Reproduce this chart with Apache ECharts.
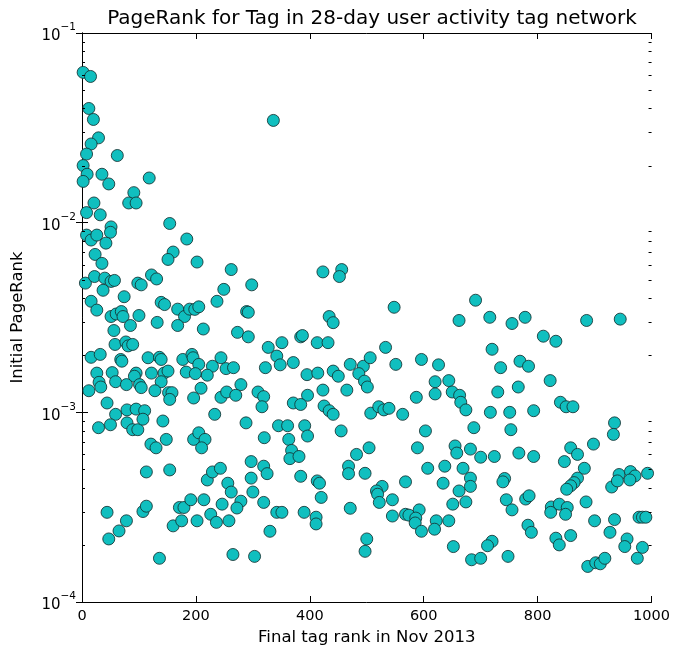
<!DOCTYPE html>
<html><head><meta charset="utf-8">
<script src="https://cdn.jsdelivr.net/npm/echarts@6/dist/echarts.min.js"></script>
<style>html,body{margin:0;padding:0;background:#fff}#c{width:673px;height:651px}</style>
</head><body><div id="c"></div>
<script>
const titleText = 'PageRank for Tag in 28-day user activity tag network';
const xAxisLabel = 'Final tag rank in Nov 2013';
const yAxisLabel = 'Initial PageRank';
const xTicks = [0, 200, 400, 600, 800, 1000];
const yTickExponents = [-4, -3, -2, -1];
const yMinorMantissas = [2, 3, 4, 5, 6, 7, 8, 9];

const finalRank = [
2,15,12,20,29,16,8,62,2,9,35,2,47,118,91,82,95,21,8,32,51,154,336,50,8,16,26,42,184,23,35,160,151,202,262,6,22,40,51,57,37,98,104,122,131,74,16,26,139,145,168,180,189,198,205,237,249,51,60,69,72,100,56,85,132,168,213,58,77,81,89,16,32,68,70,116,136,139,177,193,195,205,229,244,253,26,53,95,92,122,144,151,183,199,220,30,33,59,78,101,104,139,12,128,152,158,154,209,196,244,254,44,59,79,95,110,233,29,50,79,89,98,107,142,121,130,148,196,205,216,210,113,154,220,229,243,256,44,78,65,47,107,113,136,160,171,179,175,191,202,214,226,236,246,258,265,
298,289,292,423,456,452,434,441,273,292,327,351,384,387,413,432,342,348,371,322,266,395,414,441,450,471,494,486,506,496,501,279,270,309,319,316,396,423,465,371,384,425,434,441,507,288,345,361,391,396,320,363,368,365,381,455,504,482,468,468,497,297,319,325,297,262,300,384,413,417,420,279,272,319,342,351,390,411,411,471,330,500,497,303,
548,691,662,716,755,533,551,596,626,720,735,620,644,620,650,663,665,674,587,730,521,530,539,563,717,751,603,688,753,589,655,658,682,700,724,607,637,669,682,682,634,662,651,674,568,527,517,519,522,545,545,568,574,592,586,585,596,622,619,644,742,739,745,755,652,720,712,684,700,748,
778,810,832,886,945,769,784,766,822,840,850,862,793,935,933,767,793,858,870,847,898,882,870,864,858,851,943,930,940,963,971,962,993,779,785,824,823,838,852,849,885,900,935,927,978,984,990,783,789,832,838,858,957,953,984,975,888,902,910,918
];
const initialPageRank = [
0.062,0.059,0.040,0.035,0.028,0.026,0.023,0.0226,0.020,0.018,0.018,0.0165,0.016,0.0172,0.0144,0.0127,0.0127,0.0127,0.0113,0.0110,0.0095,0.0099,0.0346,0.0089,0.0086,0.0081,0.0086,0.0078,0.0082,0.0068,0.0061,0.0070,0.0064,0.0062,0.00566,0.0048,0.0052,0.0051,0.0049,0.00496,0.0044,0.0048,0.0047,0.0053,0.00505,0.00407,0.00385,0.00346,0.0038,0.0037,0.0035,0.0032,0.0035,0.00349,0.0036,0.00385,0.00445,0.0032,0.0033,0.0034,0.0032,0.00324,0.0027,0.00287,0.00298,0.00287,0.00275,0.00228,0.00235,0.00224,0.00228,0.00195,0.00202,0.0019,0.00186,0.00194,0.00195,0.0019,0.0019,0.00202,0.00194,0.00179,0.00175,0.00194,0.0017,0.00161,0.00162,0.00161,0.00155,0.00161,0.00161,0.00165,0.00163,0.0016,0.00157,0.00144,0.00136,0.00145,0.0014,0.0014,0.00135,0.00145,0.0013,0.0013,0.00127,0.00127,0.00117,0.00134,0.00119,0.0012,0.00128,0.00112,0.000976,0.00103,0.00104,0.00102,0.000976,0.00083,0.00086,0.00088,0.00081,0.00081,0.00092,0.0009,0.00068,0.00065,0.00072,0.00072,0.00078,0.00072,0.00065,0.000485,0.000497,0.00044,0.000485,0.000507,0.000423,0.000297,0.000268,0.000237,0.000215,0.0003,0.00032,0.00017,0.000252,0.000315,0.000315,0.000268,0.000346,0.000268,0.000346,0.00029,0.000263,0.000328,0.000268,0.000178,
0.0047,0.0034,0.00337,0.0055,0.00566,0.0052,0.0032,0.00297,0.00264,0.0025,0.0022,0.00233,0.0025,0.00254,0.00233,0.00233,0.00198,0.00178,0.00183,0.00172,0.00172,0.00158,0.00161,0.00165,0.00155,0.00179,0.00175,0.0016,0.00194,0.00146,0.00136,0.0014,0.00123,0.00128,0.00121,0.00107,0.00123,0.00131,0.00131,0.00112,0.0011,0.00108,0.00102,0.000976,0.00099,0.00088,0.00085,0.00085,0.00085,0.00075,0.000735,0.00072,0.00063,0.00057,0.000585,0.000798,0.00065,0.0006,0.00052,0.000475,0.000477,0.00055,0.00052,0.000475,0.00045,0.00038,0.00038,0.00046,0.000435,0.000423,0.000356,0.00034,0.000313,0.000335,0.000297,0.000297,0.000297,0.00028,0.000258,0.000312,0.000236,0.000215,0.000185,0.000174,
0.00358,0.0039,0.00305,0.00317,0.00294,0.0022,0.00179,0.0019,0.00178,0.00215,0.00172,0.00145,0.00147,0.00125,0.00128,0.00123,0.00113,0.00103,0.0012,0.00128,0.00107,0.00103,0.00105,0.000976,0.001,0.001,0.000798,0.00083,0.00081,0.00065,0.000665,0.00061,0.00064,0.00058,0.000585,0.000507,0.00052,0.000507,0.00045,0.000407,0.000423,0.000385,0.000328,0.000337,0.00043,0.000407,0.000385,0.00037,0.000335,0.000346,0.000284,0.00029,0.000287,0.000306,0.000277,0.000261,0.000236,0.000268,0.000242,0.000268,0.000448,0.00043,0.000346,0.000306,0.000196,0.000209,0.000198,0.000167,0.00017,0.000174,
0.00317,0.00252,0.00237,0.00305,0.0031,0.00186,0.00175,0.00136,0.00147,0.00113,0.00107,0.00107,0.00102,0.00088,0.000765,0.00061,0.000585,0.00065,0.0006,0.00055,0.00068,0.000507,0.00045,0.000426,0.00041,0.000393,0.00047,0.000404,0.000435,0.000487,0.000462,0.00044,0.000477,0.000349,0.000363,0.000317,0.000297,0.000328,0.000315,0.00029,0.000337,0.000268,0.000272,0.000233,0.00028,0.00028,0.00028,0.000254,0.000233,0.000217,0.0002,0.000224,0.000215,0.000196,0.000194,0.00017,0.000154,0.000161,0.000159,0.00017
];

const FONT = 'DejaVu Sans';
const points = finalRank.map((x, i) => [x, initialPageRank[i]]);
const yMin = Math.pow(10, yTickExponents[0]);
const yMax = Math.pow(10, yTickExponents[yTickExponents.length - 1]);
const minorVals = [];
for (let k = 0; k < yTickExponents.length - 1; k++) {
  yMinorMantissas.forEach(m => minorVals.push([0, m * Math.pow(10, yTickExponents[k])]));
}
const MINUS = '\u2212';
const chart = echarts.init(document.getElementById('c'), null, {renderer: 'canvas'});
const tickStyle = {color: '#000', width: 1};
chart.setOption({
  animation: false,
  backgroundColor: '#fff',
  title: {
    text: titleText, left: 367, top: 4, textAlign: 'center',
    textStyle: {fontFamily: FONT, fontSize: 20, fontWeight: 'normal', color: '#000'}
  },
  grid: {left: 82, right: 21, top: 33, bottom: 48, containLabel: false},
  xAxis: [{
    type: 'value', min: xTicks[0], max: xTicks[xTicks.length - 1], interval: 200,
    name: xAxisLabel, nameLocation: 'middle', nameGap: 27,
    nameTextStyle: {fontFamily: FONT, fontSize: 16.5, color: '#000'},
    axisLine: {show: true, lineStyle: {color: '#000', width: 1}},
    axisTick: {show: true, inside: true, length: 6, lineStyle: tickStyle},
    axisLabel: {fontFamily: FONT, fontSize: 14.5, color: '#000', margin: 7, formatter: v => String(v)},
    splitLine: {show: false}
  }, {
    type: 'value', position: 'top', min: xTicks[0], max: xTicks[xTicks.length - 1], interval: 200,
    axisLine: {show: true, lineStyle: {color: '#000', width: 1}},
    axisTick: {show: true, inside: true, length: 6, lineStyle: tickStyle},
    axisLabel: {show: false}, splitLine: {show: false}
  }],
  yAxis: [{
    type: 'log', logBase: 10, min: yMin, max: yMax,
    name: yAxisLabel, nameLocation: 'middle', nameGap: 56, nameRotate: 90,
    nameTextStyle: {fontFamily: FONT, fontSize: 16.5, color: '#000'},
    axisLine: {show: true, lineStyle: {color: '#000', width: 1}},
    axisTick: {show: true, inside: true, length: 6, lineStyle: tickStyle},
    axisLabel: {
      margin: 6,
      formatter: v => {
        const e = Math.round(Math.log10(v));
        return '{b|10}{s|' + (e < 0 ? MINUS + (-e) : e) + '}';
      },
      rich: {
        b: {fontFamily: FONT, fontSize: 15, color: '#000', verticalAlign: 'bottom', lineHeight: 22},
        s: {fontFamily: FONT, fontSize: 10.5, color: '#000', verticalAlign: 'top', lineHeight: 22}
      }
    },
    splitLine: {show: false}, minorTick: {show: false}
  }, {
    type: 'log', logBase: 10, min: yMin, max: yMax, position: 'right',
    axisLine: {show: true, lineStyle: {color: '#000', width: 1}},
    axisTick: {show: true, inside: true, length: 6, lineStyle: tickStyle},
    axisLabel: {show: false}, splitLine: {show: false}
  }],
  series: [{
    type: 'scatter', xAxisIndex: 0, yAxisIndex: 0,
    data: points, symbol: 'circle', symbolSize: 12,
    itemStyle: {color: '#10bfbf', borderColor: 'rgba(20,50,50,0.85)', borderWidth: 1, opacity: 1},
    emphasis: {disabled: true}, z: 2
  }, {
    type: 'custom', xAxisIndex: 0, yAxisIndex: 0, data: minorVals, silent: true, z: 3,
    clip: false,
    renderItem: (params, api) => {
      const p = api.coord([0, api.value(1)]);
      const cs = params.coordSys;
      const y = Math.round(p[1]) + 0.5;
      return {type: 'group', children: [
        {type: 'line', shape: {x1: cs.x, y1: y, x2: cs.x + 3, y2: y}, style: {stroke: '#000', lineWidth: 1}},
        {type: 'line', shape: {x1: cs.x + cs.width - 3, y1: y, x2: cs.x + cs.width, y2: y}, style: {stroke: '#000', lineWidth: 1}}
      ]};
    }
  }]
});
</script></body></html>
